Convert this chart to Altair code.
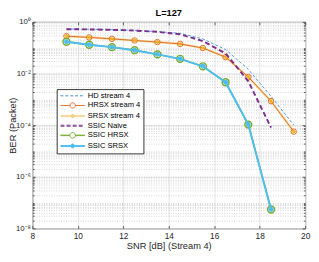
import json
import math
import altair as alt
import pandas as pd

# ---------------- data ----------------
snr = [9.5, 10.5, 11.5, 12.5, 13.5, 14.5, 15.5, 16.5, 17.5, 18.5, 19.5]
ber_hd = [0.53, 0.52, 0.50, 0.47, 0.42, 0.36, 0.22, 0.085, 0.0145, 0.0013, 1.0e-4]
ber_hrsx = [0.28, 0.25, 0.22, 0.19, 0.165, 0.14, 0.097, 0.043, 0.0073, 8.5e-4, 5.6e-5]
ber_srsx = [0.28, 0.25, 0.22, 0.19, 0.165, 0.14, 0.097, 0.043, 0.0073, 8.5e-4, 5.6e-5]
ber_naive = [0.52, 0.51, 0.49, 0.46, 0.41, 0.33, 0.18, 0.06, 0.005, 8.0e-5]
ber_ssic_hrsx = [0.17, 0.13, 0.105, 0.08, 0.055, 0.037, 0.019, 0.0046, 1.05e-4, 5.4e-8]
ber_ssic_srsx = [0.17, 0.13, 0.105, 0.08, 0.055, 0.037, 0.019, 0.0046, 1.05e-4, 5.4e-8]

series_names = ["HD stream 4", "HRSX stream 4", "SRSX stream 4",
                "SSIC Naive", "SSIC HRSX", "SSIC SRSX"]
series_colors = ["#3d8fd6", "#e07030", "#f5d591", "#7E2F8E", "#77AC30", "#4DBEEE"]
marker_colors = {"HRSX stream 4": "#e07030", "SRSX stream 4": "#EDB120",
                 "SSIC HRSX": "#77AC30", "SSIC SRSX": "#4DBEEE"}

x_ticks = [8, 10, 12, 14, 16, 18, 20]
y_major = [1e-8, 1e-6, 1e-4, 1e-2, 1.0]
y_major_labels = ["10⁻⁸", "10⁻⁶", "10⁻⁴", "10⁻²", "10⁰"]
y_minor = [k * 10.0 ** e for e in range(-8, 0) for k in range(1, 10)] + [1.0]
y_minor_ticks = [v for v in y_minor if min(abs(v / m - 1) for m in y_major) > 1e-6]

title_text = "L=127"
x_title = "SNR [dB] (Stream 4)"
y_title = "BER (Packet)"

# ---------------- long table ----------------
rows = []
for name, vals in zip(series_names, [ber_hd, ber_hrsx, ber_srsx, ber_naive,
                                     ber_ssic_hrsx, ber_ssic_srsx]):
    for x, v in zip(snr, vals):
        rows.append({"series": name, "snr": x, "ber": v})
df = pd.DataFrame(rows)

FONT = "Liberation Sans"
TXT = "#262626"
TICK = "#3a3a3a"
PLOT_W, PLOT_H = 280, 212
TOP = 11

lab_by_exp = {int(round(math.log10(v))): lab for v, lab in zip(y_major, y_major_labels)}
lab_arr = [lab_by_exp.get(e, "") for e in range(-8, 1)]
label_expr = "[" + ",".join(json.dumps(s) for s in lab_arr) + "][round(log(datum.value)/LN10)+8]"

x_scale = alt.Scale(domain=[8, 20], nice=False, zero=False)
y_scale = alt.Scale(type="log", domain=[1e-8, 1], nice=False)

x_main = alt.X("snr:Q", scale=x_scale,
               axis=alt.Axis(values=x_ticks, title=x_title, grid=True,
                             gridColor="#e4e4e4", ticks=False, domain=False,
                             labelFontSize=8.5, labelPadding=3, labelFlush=False,
                             titleFontSize=9.5, titlePadding=1,
                             titleFontWeight="normal", labelColor=TXT,
                             titleColor=TXT, format="d"))
x_none = alt.X("snr:Q", scale=x_scale, axis=None)


def tick_axis(orient, values, size, offset):
    return alt.Axis(orient=orient, values=values, grid=False, labels=False,
                    domain=False, ticks=True, tickSize=size, tickColor=TICK,
                    tickWidth=0.8, offset=offset, title=None)


y_main = alt.Y("ber:Q", scale=y_scale,
               axis=alt.Axis(values=y_major, labelExpr=label_expr,
                             title=y_title, grid=True, gridColor="#e4e4e4",
                             ticks=False, domain=False, labelFontSize=8,
                             labelPadding=2, labelColor=TXT, titleColor=TXT,
                             titleFontSize=9.5, titleFontWeight="normal",
                             titleX=-15, titleY=PLOT_H / 2, labelOverlap=False))
y_minor_grid = alt.Y("ber:Q", scale=y_scale,
                     axis=alt.Axis(orient="right", values=y_minor, grid=True,
                                   gridDash=[1, 1.5], gridColor="#d4d4d4",
                                   ticks=False, labels=False, domain=False,
                                   title=None))
y_none = alt.Y("ber:Q", scale=y_scale, axis=None)

# inward ticks: an axis placed at the opposite edge, ticks pointing into the plot
y_tick_l_major = alt.Y("ber:Q", scale=y_scale, axis=tick_axis("right", y_major, 3, -PLOT_W))
y_tick_l_minor = alt.Y("ber:Q", scale=y_scale, axis=tick_axis("right", y_minor_ticks, 1.8, -PLOT_W))
y_tick_r_major = alt.Y("ber:Q", scale=y_scale, axis=tick_axis("left", y_major, 3, -PLOT_W))
y_tick_r_minor = alt.Y("ber:Q", scale=y_scale, axis=tick_axis("left", y_minor_ticks, 1.8, -PLOT_W))
x_tick_b = alt.X("snr:Q", scale=x_scale, axis=tick_axis("top", x_ticks, 3, -PLOT_H))
x_tick_t = alt.X("snr:Q", scale=x_scale, axis=tick_axis("bottom", x_ticks, 3, -PLOT_H))

# ---------------- legend symbols (line + marker paths) ----------------
L0, L1 = -1.0, 7.333   # symbolSize 36 -> 3 px per unit
CX = 3.167


def strands(w):
    if w <= 1.2:
        return [0.0]
    h = (w - 1.0) / 2.0 / 3.0
    return [-h, h]


def line_path(w, gap=None):
    out = ""
    for y in strands(w):
        if gap is None:
            out += f"M{L0},{y:.3f}H{L1}"
        else:
            out += f"M{L0},{y:.3f}H{CX - gap:.3f}M{CX + gap:.3f},{y:.3f}H{L1}"
    return out


def ring(r):
    return (f"M{CX - r:.3f},0A{r},{r} 0 1,1 {CX + r:.3f},0"
            f"A{r},{r} 0 1,1 {CX - r:.3f},0Z")


leg_shape = [line_path(0.9),
             line_path(1.0, gap=0.9) + ring(0.9),
             line_path(2.2) + ring(0.6),
             line_path(2.0),
             line_path(1.5, gap=0.95) + ring(0.95),
             line_path(2.0) + ring(0.65)]
leg_fill = ["transparent", "white", "#EDB120", "transparent", "white", "#4DBEEE"]
leg_dash = [[3, 2], [], [], [4, 2.25], [], []]

names_js = json.dumps(series_names)


def pick(vals):
    return {"expr": f"{json.dumps(vals)}[indexof({names_js}, datum.value)]"}


legend = alt.Legend(orient="none", legendX=25, legendY=88 - (8 + TOP), title=None,
                    labelFontSize=7.8, labelColor="#000000", symbolSize=36,
                    rowPadding=0.9, padding=3, strokeColor="#333333",
                    fillColor="white", labelOffset=21, symbolOffset=0,
                    labelFont=FONT,
                    symbolType=pick(leg_shape),
                    symbolFillColor=pick(leg_fill),
                    symbolStrokeWidth=1,
                    symbolDash=pick(leg_dash),
                    symbolOpacity=1)

color_enc = alt.Color("series:N",
                      scale=alt.Scale(domain=series_names, range=series_colors),
                      legend=legend)

base = alt.Chart(df)


def sel(name):
    return base.transform_filter(alt.datum.series == name)


asterisk = "M-1,0H1M0,-1V1M-0.7,-0.7L0.7,0.7M-0.7,0.7L0.7,-0.7"

layers = [
    sel(series_names[0]).mark_line(strokeDash=[3, 2], strokeWidth=0.9)
    .encode(x=x_main, y=y_main, color=color_enc),
    sel(series_names[2]).mark_line(strokeWidth=2.2)
    .encode(x=x_tick_b, y=y_minor_grid, color=color_enc),
    sel(series_names[1]).mark_line(strokeWidth=1)
    .encode(x=x_tick_t, y=y_tick_l_major, color=color_enc),
    sel(series_names[1]).mark_point(shape="circle", size=32, filled=False,
                                    color=marker_colors["HRSX stream 4"],
                                    strokeWidth=1, opacity=1)
    .encode(x=x_none, y=y_tick_l_minor),
    sel(series_names[2]).mark_point(shape=asterisk, size=20, filled=False,
                                    color=marker_colors["SRSX stream 4"],
                                    strokeWidth=1, opacity=1)
    .encode(x=x_none, y=y_tick_r_major),
    sel(series_names[3]).mark_line(strokeDash=[5, 3], strokeWidth=2)
    .encode(x=x_none, y=y_tick_r_minor, color=color_enc),
    sel(series_names[4]).mark_line(strokeWidth=1.5)
    .encode(x=x_none, y=y_none, color=color_enc),
    sel(series_names[4]).mark_point(shape="circle", size=50, filled=False,
                                    color=marker_colors["SSIC HRSX"],
                                    strokeWidth=1.5, opacity=1)
    .encode(x=x_none, y=y_none),
    sel(series_names[5]).mark_line(strokeWidth=2)
    .encode(x=x_none, y=y_none, color=color_enc),
    sel(series_names[5]).mark_circle(size=26, color=marker_colors["SSIC SRSX"],
                                     opacity=1)
    .encode(x=x_none, y=y_none),
]

chart = (
    alt.layer(*layers)
    .resolve_axis(x="independent", y="independent")
    .properties(
        width=PLOT_W, height=PLOT_H,
        autosize=alt.AutoSizeParams(type="none"),
        padding={"left": 25, "top": TOP, "right": 6, "bottom": 22},
        title=alt.TitleParams(title_text, fontSize=9.5, fontWeight="bold",
                              offset=1, color="#000000", anchor="middle",
                              font=FONT),
    )
    .configure(font=FONT)
    .configure_view(stroke="#404040", strokeWidth=1)
)

chart.save("out.html", embed_options={"renderer": "svg", "actions": False})
